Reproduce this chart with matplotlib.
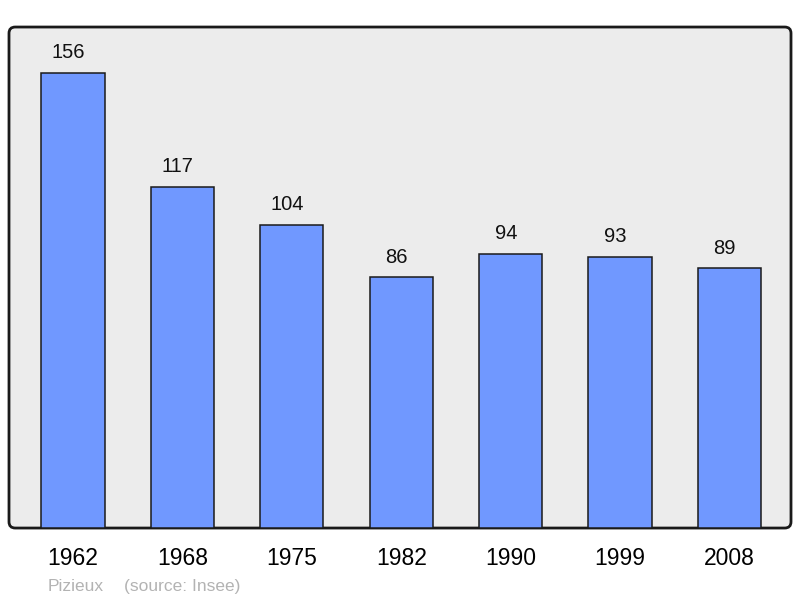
import matplotlib.pyplot as plt
from matplotlib.patches import FancyBboxPatch

# Population data
years = ["1962", "1968", "1975", "1982", "1990", "1999", "2008"]
population = [156, 117, 104, 86, 94, 93, 89]

plt.rcParams['font.family'] = ['Liberation Sans', 'DejaVu Sans']

fig = plt.figure(figsize=(8, 5.98), dpi=100)
ax = fig.add_axes([0.01125, 0.117, 0.9775, 0.8378])
ax.patch.set_visible(False)
for s in ax.spines.values():
    s.set_visible(False)

# Rounded grey background frame
bg = FancyBboxPatch((0, 0), 1, 1, boxstyle="round,pad=0,rounding_size=0.008",
                    transform=ax.transAxes, facecolor="#ececec",
                    edgecolor="#1a1a1a", linewidth=2, zorder=0, clip_on=False,
                    mutation_aspect=1.56)
ax.add_patch(bg)

x = list(range(len(years)))
ax.bar(x, population, width=0.576, color="#7098ff", edgecolor="#1a1a1a",
       linewidth=1.1, zorder=2)

for xi, v in zip(x, population):
    ax.text(xi - 0.042, v + 3.6, str(v), ha="center", va="bottom", fontsize=14.5,
            color="#111111")

ax.set_xlim(-0.585, 6.563)
ax.set_ylim(0, 171.7)
ax.set_yticks([])
ax.set_xticks(x)
ax.set_xticklabels(years, fontsize=16.5)
ax.tick_params(axis="x", length=0, pad=14)

fig.text(0.06, 0.011, "Pizieux", fontsize=12.5, color="#b3b3b3", ha="left")
fig.text(0.155, 0.011, "(source: Insee)", fontsize=12.5, color="#b3b3b3", ha="left")

fig.savefig("out.png", dpi=100)
